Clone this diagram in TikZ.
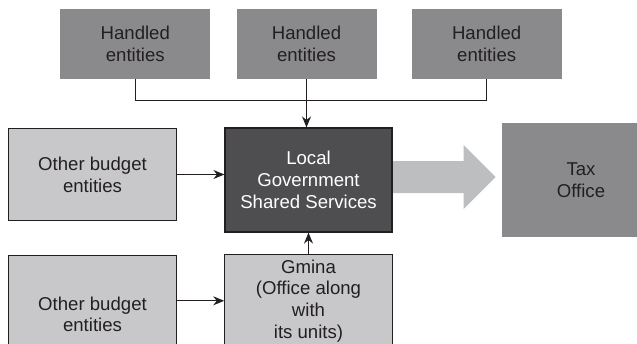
\documentclass[tikz,border=0pt]{standalone}
\usepackage{fontspec}
\setmainfont{Liberation Sans}
\usetikzlibrary{positioning,arrows.meta,calc}
\definecolor{handledgrey}{RGB}{138,138,141}
\definecolor{budgetgrey}{RGB}{200,200,202}
\definecolor{shareddark}{RGB}{78,78,80}
\definecolor{flowgrey}{RGB}{189,190,192}
\definecolor{inkgrey}{RGB}{35,31,32}
\tikzset{>={Stealth[length=5.5pt,width=4.5pt]}}
\tikzset{
  box/.style={align=center, inner sep=1.5pt, text=inkgrey,
    font=\fontsize{9.3}{10.85}\selectfont},
  handled/.style={box, fill=handledgrey, minimum width=75pt, minimum height=35pt},
  budget/.style={box, fill=budgetgrey, draw=inkgrey, line width=0.6pt,
    minimum width=83.7pt, minimum height=46.2pt},
  shared/.style={box, fill=shareddark, draw=inkgrey, line width=0.6pt, text=white,
    minimum width=83.5pt, minimum height=52pt},
  office/.style={box, fill=handledgrey, minimum width=79pt, minimum height=57pt},
  link/.style={draw=inkgrey, line width=0.65pt},
}

\begin{document}
\begin{tikzpicture}[x=0.5pt, y=-0.5pt]

  \useasboundingbox (0,0) rectangle (637,343);
  \clip (0,0) rectangle (637,343);

  % Nodes
  \node[shared]                             (lgss)  at (308.5,180) {Local\\Government\\Shared Services};
  \node[handled, minimum width=70pt, above=24pt of lgss, xshift=-1pt] (h2) {Handled\\entities};
  \node[handled, left=12.7pt of h2]         (h1)    {Handled\\entities};
  \node[handled, right=17.2pt of h2]        (h3)    {Handled\\entities};
  \node[budget, left=23.8pt of lgss, yshift=2.75pt] (ob1) {Other budget\\entities};
  \node[office, right=54.5pt of lgss]       (tax)   {Tax\\Office};
  \node[budget, below=10.7pt of lgss]       (gmina) {Gmina\\(Office along\\with\\its units)};
  \node[budget, minimum height=59pt, below=16.7pt of ob1] (ob2) {Other budget\\entities};

  % Edges
  \coordinate (join) at ($(h2.south)!0.44!(h2.south |- lgss.north)$);
  \draw[link] (h1.south) |- (join) -| (h3.south);
  \draw[link, ->] (h2.south) -- (h2.south |- lgss.north);
  \draw[link, ->] (ob1.east) -- (ob1.east -| lgss.west);
  \draw[link, ->] (gmina.north) -- (lgss.south);
  \draw[link, ->] (ob2.east |- gmina.west) -- (gmina.west);

  % Flow to the tax office
  \fill[flowgrey] ($(lgss.east)+(0.6,-19)$) -- ++(70.4,0) -- ++(0,-16) -- ++(32,32)
    -- ++(-32,32) -- ++(0,-16) -- ++(-70.4,0) -- cycle;

\end{tikzpicture}
\end{document}
